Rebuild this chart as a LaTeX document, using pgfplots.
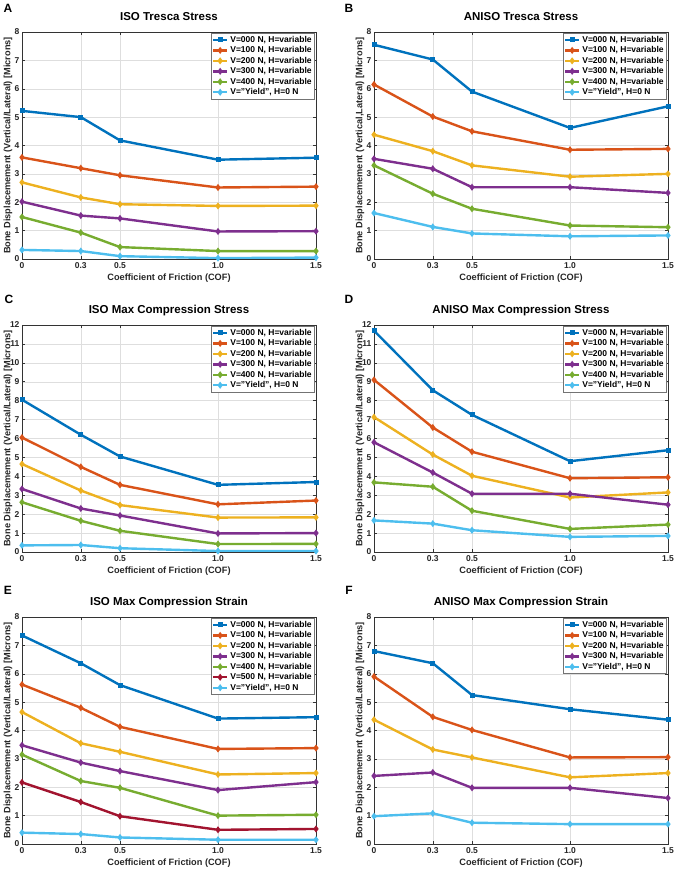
\documentclass[border=0pt]{standalone}
\usepackage{fontspec}
\setmainfont{Liberation Sans}
\usepackage{pgfplots}
\pgfplotsset{compat=1.18}
\definecolor{c1}{HTML}{0072BD}
\definecolor{c2}{HTML}{D95319}
\definecolor{c3}{HTML}{EDB120}
\definecolor{c4}{HTML}{7E2F8E}
\definecolor{c5}{HTML}{77AC30}
\definecolor{c6}{HTML}{4DBEEE}
\definecolor{c7}{HTML}{A2142F}
\pgfplotsset{
 panel/.style={
  scale only axis, width=294pt, height=227pt, anchor=south west,
  xmin=0, xmax=1.5, ymin=0,
  xtick={0,0.3,0.5,1.0,1.5}, xticklabels={0,0.3,0.5,1.0,1.5},
  ytick distance=1,
  grid=major, grid style={color=black!13, line width=0.4pt},
  axis line style={color=black!80, line width=0.5pt},
  tick style={color=black!80, line width=0.5pt},
  tick align=inside, major tick length=3pt,
  ticklabel style={font=\bfseries\fontsize{8.5}{9}\selectfont, color=black!85},
  yticklabel style={xshift=1pt},
  /pgf/number format/assume math mode=true,
  title style={font=\bfseries\fontsize{11.5}{12}\selectfont, at={(axis description cs:0.5,1)}, anchor=base, yshift=5.5pt},
  xlabel={Coefficient of Friction (COF)},
  xlabel style={font=\bfseries\fontsize{9.2}{10}\selectfont, color=black!85, at={(axis description cs:0.5,0)}, anchor=base, yshift=-21.5pt},
  ylabel style={font=\bfseries\fontsize{9.2}{10}\selectfont, color=black!85, at={(axis description cs:-0.0476,0.5)}, anchor=center},
  legend style={at={(rel axis cs:0.996,0.996)}, anchor=north east, font=\bfseries\fontsize{8.5}{9}\selectfont, draw=black!55, line width=0.4pt, inner sep=1pt, row sep=-1.2pt, cells={anchor=west}},
  legend image code/.code={\draw[mark repeat=2,mark phase=2] plot coordinates {(0pt,0pt) (7pt,0pt) (14pt,0pt)};},
  every axis plot/.append style={line width=2.4pt, mark size=1.6pt, mark options={solid}},
 },
 s0/.style={color=c1, mark=square*, mark size=1.3pt},
 s1/.style={color=c2, mark=diamond*},
 s2/.style={color=c3, mark=diamond*},
 s3/.style={color=c4, mark=diamond*},
 s4/.style={color=c5, mark=diamond*},
 s5/.style={color=c7, mark=diamond*},
 sy/.style={color=c6, mark=diamond*},
}
\newcommand{\plab}[1]{\textbf{\fontsize{12}{12}\selectfont #1}}
\begin{document}
\begin{tikzpicture}
\useasboundingbox (0,0) rectangle (675pt,871pt);
\node at (8pt,863pt) {\plab{A}};
\node at (349pt,863pt) {\plab{B}};
\node at (9pt,572pt) {\plab{C}};
\node at (349pt,572pt) {\plab{D}};
\node at (8pt,281pt) {\plab{E}};
\node at (349pt,281pt) {\plab{F}};

% A
\begin{axis}[panel, at={(22pt,612pt)}, ymax=8, title={ISO Tresca Stress},
  ylabel={Bone Displacemement (Vertical/Lateral) [Microns]}]
\addplot[s0] coordinates {(0,5.22) (0.3,5.0) (0.5,4.18) (1.0,3.5) (1.5,3.57)};
\addplot[s1] coordinates {(0,3.58) (0.3,3.2) (0.5,2.95) (1.0,2.52) (1.5,2.55)};
\addplot[s2] coordinates {(0,2.7) (0.3,2.17) (0.5,1.93) (1.0,1.87) (1.5,1.88)};
\addplot[s3] coordinates {(0,2.02) (0.3,1.53) (0.5,1.43) (1.0,0.97) (1.5,0.98)};
\addplot[s4] coordinates {(0,1.48) (0.3,0.93) (0.5,0.42) (1.0,0.28) (1.5,0.28)};
\addplot[sy] coordinates {(0,0.32) (0.3,0.28) (0.5,0.1) (1.0,0.03) (1.5,0.05)};
\legend{{V=000 N, H=variable},{V=100 N, H=variable},{V=200 N, H=variable},{V=300 N, H=variable},{V=400 N, H=variable},{V="Yield", H=0 N}}
\end{axis}

% B
\begin{axis}[panel, at={(374pt,612pt)}, ymax=8, title={ANISO Tresca Stress},
  ylabel={Bone Displacemement (Vertical,Lateral) [Microns]}]
\addplot[s0] coordinates {(0,7.55) (0.3,7.03) (0.5,5.9) (1.0,4.62) (1.5,5.38)};
\addplot[s1] coordinates {(0,6.15) (0.3,5.02) (0.5,4.5) (1.0,3.85) (1.5,3.88)};
\addplot[s2] coordinates {(0,4.38) (0.3,3.8) (0.5,3.3) (1.0,2.9) (1.5,3.0)};
\addplot[s3] coordinates {(0,3.53) (0.3,3.18) (0.5,2.53) (1.0,2.53) (1.5,2.33)};
\addplot[s4] coordinates {(0,3.3) (0.3,2.3) (0.5,1.77) (1.0,1.18) (1.5,1.12)};
\addplot[sy] coordinates {(0,1.62) (0.3,1.13) (0.5,0.9) (1.0,0.8) (1.5,0.83)};
\legend{{V=000 N, H=variable},{V=100 N, H=variable},{V=200 N, H=variable},{V=300 N, H=variable},{V=400 N, H=variable},{V="Yield", H=0 N}}
\end{axis}

% C
\begin{axis}[panel, at={(22pt,319pt)}, ymax=12, title={ISO Max Compression Stress},
  ylabel={Bone Displacemement (Vertical/Lateral) [Microns]}]
\addplot[s0] coordinates {(0,8.05) (0.3,6.2) (0.5,5.05) (1.0,3.55) (1.5,3.7)};
\addplot[s1] coordinates {(0,6.05) (0.3,4.5) (0.5,3.55) (1.0,2.52) (1.5,2.72)};
\addplot[s2] coordinates {(0,4.65) (0.3,3.25) (0.5,2.48) (1.0,1.82) (1.5,1.83)};
\addplot[s3] coordinates {(0,3.33) (0.3,2.3) (0.5,1.93) (1.0,0.98) (1.5,1.0)};
\addplot[s4] coordinates {(0,2.63) (0.3,1.65) (0.5,1.12) (1.0,0.42) (1.5,0.43)};
\addplot[sy] coordinates {(0,0.35) (0.3,0.37) (0.5,0.2) (1.0,0.05) (1.5,0.05)};
\legend{{V=000 N, H=variable},{V=100 N, H=variable},{V=200 N, H=variable},{V=300 N, H=variable},{V=400 N, H=variable},{V="Yield", H=0 N}}
\end{axis}

% D
\begin{axis}[panel, at={(374pt,319pt)}, ymax=12, title={ANISO Max Compression Stress},
  ylabel={Bone Displacemement (Vertical/Lateral) [Microns]}]
\addplot[s0] coordinates {(0,11.7) (0.3,8.55) (0.5,7.25) (1.0,4.8) (1.5,5.38)};
\addplot[s1] coordinates {(0,9.1) (0.3,6.58) (0.5,5.3) (1.0,3.9) (1.5,3.95)};
\addplot[s2] coordinates {(0,7.13) (0.3,5.15) (0.5,4.03) (1.0,2.88) (1.5,3.15)};
\addplot[s3] coordinates {(0,5.8) (0.3,4.2) (0.5,3.08) (1.0,3.08) (1.5,2.5)};
\addplot[s4] coordinates {(0,3.68) (0.3,3.45) (0.5,2.18) (1.0,1.22) (1.5,1.45)};
\addplot[sy] coordinates {(0,1.67) (0.3,1.5) (0.5,1.15) (1.0,0.8) (1.5,0.85)};
\legend{{V=000 N, H=variable},{V=100 N, H=variable},{V=200 N, H=variable},{V=300 N, H=variable},{V=400 N, H=variable},{V="Yield", H=0 N}}
\end{axis}

% E
\begin{axis}[panel, at={(22pt,27pt)}, ymax=8, title={ISO Max Compression Strain},
  ylabel={Bone Displacemement (Vertical/Lateral) [Microns]}]
\addplot[s0] coordinates {(0,7.35) (0.3,6.37) (0.5,5.6) (1.0,4.42) (1.5,4.47)};
\addplot[s1] coordinates {(0,5.62) (0.3,4.8) (0.5,4.13) (1.0,3.35) (1.5,3.38)};
\addplot[s2] coordinates {(0,4.65) (0.3,3.55) (0.5,3.25) (1.0,2.45) (1.5,2.5)};
\addplot[s3] coordinates {(0,3.48) (0.3,2.87) (0.5,2.57) (1.0,1.9) (1.5,2.18)};
\addplot[s4] coordinates {(0,3.15) (0.3,2.22) (0.5,1.98) (1.0,1.0) (1.5,1.03)};
\addplot[s5] coordinates {(0,2.17) (0.3,1.48) (0.5,0.98) (1.0,0.5) (1.5,0.53)};
\addplot[sy] coordinates {(0,0.4) (0.3,0.35) (0.5,0.23) (1.0,0.15) (1.5,0.15)};
\legend{{V=000 N, H=variable},{V=100 N, H=variable},{V=200 N, H=variable},{V=300 N, H=variable},{V=400 N, H=variable},{V=500 N, H=variable},{V="Yield", H=0 N}}
\end{axis}

% F
\begin{axis}[panel, at={(374pt,27pt)}, ymax=8, title={ANISO Max Compression Strain},
  ylabel={Bone Displacemement (Vertical/Lateral) [Microns]}]
\addplot[s0] coordinates {(0,6.8) (0.3,6.37) (0.5,5.25) (1.0,4.75) (1.5,4.38)};
\addplot[s1] coordinates {(0,5.9) (0.3,4.48) (0.5,4.02) (1.0,3.05) (1.5,3.06)};
\addplot[s2] coordinates {(0,4.38) (0.3,3.33) (0.5,3.05) (1.0,2.35) (1.5,2.5)};
\addplot[s3] coordinates {(0,2.4) (0.3,2.52) (0.5,1.98) (1.0,1.98) (1.5,1.62)};
\addplot[sy] coordinates {(0,0.98) (0.3,1.08) (0.5,0.75) (1.0,0.7) (1.5,0.7)};
\legend{{V=000 N, H=variable},{V=100 N, H=variable},{V=200 N, H=variable},{V=300 N, H=variable},{V="Yield", H=0 N}}
\end{axis}
\end{tikzpicture}
\end{document}
